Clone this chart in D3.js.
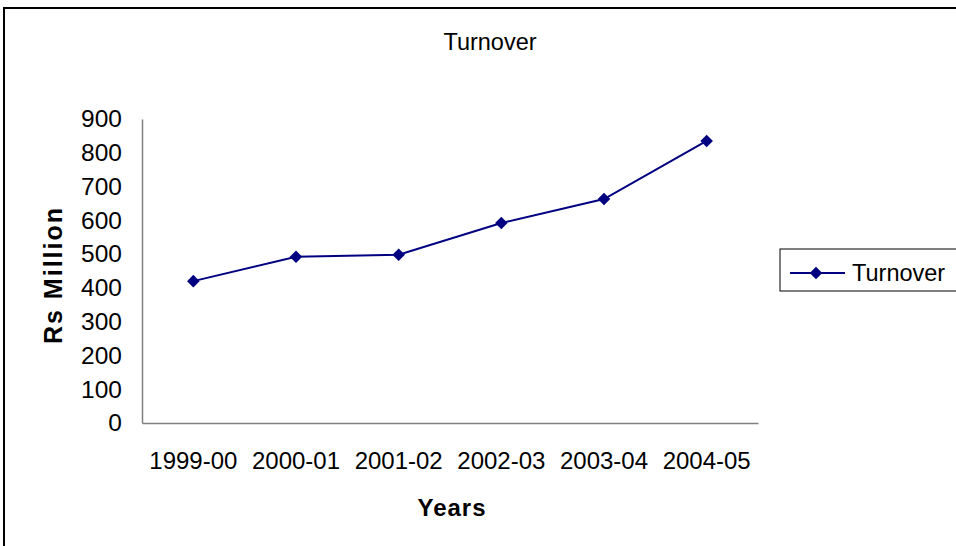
<!DOCTYPE html>
<html>
<head>
<meta charset="utf-8">
<script src="https://cdn.jsdelivr.net/npm/d3@7"></script>
<style>
  body { margin: 0; background: #fff; }
  svg { font-family: "Liberation Sans", Arial, sans-serif; }
</style>
</head>
<body>
<div class="chart"></div>
<script>
const years = ["1999-00", "2000-01", "2001-02", "2002-03", "2003-04", "2004-05"];
const turnover = [420, 492, 498, 592, 663, 835];
const yTicks = [0, 100, 200, 300, 400, 500, 600, 700, 800, 900];

const width = 956;
const height = 546;
const margin = { left: 142, right: 198, top: 119, bottom: 123 };

const svg = d3
  .select(".chart")
  .append("svg")
  .attr("width", width)
  .attr("height", height);

// outer frame
svg
  .append("rect")
  .attr("x", 4)
  .attr("y", 8)
  .attr("width", 960)
  .attr("height", 560)
  .attr("fill", "white")
  .attr("stroke", "black")
  .attr("stroke-width", 2);

const x = d3
  .scaleBand()
  .domain(years)
  .range([margin.left, width - margin.right]);

const y = d3
  .scaleLinear()
  .domain([0, 900])
  .range([height - margin.bottom, margin.top]);

// title
svg
  .append("text")
  .attr("x", 490)
  .attr("y", 50)
  .attr("text-anchor", "middle")
  .attr("font-size", "23.5px")
  .text("Turnover");

// y axis
const yAxis = svg
  .append("g")
  .attr("transform", "translate(" + margin.left + ",0)")
  .call(d3.axisLeft(y).tickValues(yTicks).tickSize(0).tickPadding(20));
yAxis.select(".domain").attr("stroke", "#808080").attr("stroke-width", 1.5);
yAxis.selectAll("text").attr("font-size", "24.5px").attr("fill", "black")
  .attr("font-family", "Liberation Sans, Arial, sans-serif");

// x axis
const xAxis = svg
  .append("g")
  .attr("transform", "translate(0," + (height - margin.bottom) + ")")
  .call(d3.axisBottom(x).tickSize(0).tickPadding(29));
xAxis.select(".domain").attr("stroke", "#808080").attr("stroke-width", 1.5);
xAxis.selectAll("text").attr("font-size", "24px").attr("fill", "black")
  .attr("font-family", "Liberation Sans, Arial, sans-serif");

// axis titles
svg
  .append("text")
  .attr("x", 452)
  .attr("y", 516)
  .attr("text-anchor", "middle")
  .attr("font-size", "24px")
  .attr("font-weight", "bold")
  .attr("letter-spacing", "1px")
  .text("Years");

svg
  .append("text")
  .attr("transform", "translate(62,275) rotate(-90)")
  .attr("text-anchor", "middle")
  .attr("font-size", "25px")
  .attr("font-weight", "bold")
  .attr("letter-spacing", "2px")
  .text("Rs Million");

// line
const line = d3
  .line()
  .x(function (d, i) {
    return x(years[i]) + x.bandwidth() / 2;
  })
  .y(function (d) {
    return y(d);
  });

svg
  .append("path")
  .datum(turnover)
  .attr("d", line)
  .attr("fill", "none")
  .attr("stroke", "#000080")
  .attr("stroke-width", 2);

const diamond = d3.symbol().type(d3.symbolDiamond2).size(100);

svg
  .selectAll(".pt")
  .data(turnover)
  .enter()
  .append("path")
  .attr("class", "pt")
  .attr("d", diamond)
  .attr("transform", function (d, i) {
    return "translate(" + (x(years[i]) + x.bandwidth() / 2) + "," + y(d) + ")";
  })
  .attr("fill", "#000080");

// legend
const legend = svg.append("g");
legend
  .append("rect")
  .attr("x", 780)
  .attr("y", 249)
  .attr("width", 190)
  .attr("height", 42)
  .attr("fill", "white")
  .attr("stroke", "black")
  .attr("stroke-width", 1);
legend
  .append("line")
  .attr("x1", 790)
  .attr("x2", 845)
  .attr("y1", 273)
  .attr("y2", 273)
  .attr("stroke", "#000080")
  .attr("stroke-width", 2);
legend
  .append("path")
  .attr("d", diamond)
  .attr("transform", "translate(816,273)")
  .attr("fill", "#000080");
legend
  .append("text")
  .attr("x", 852)
  .attr("y", 281)
  .attr("font-size", "23.5px")
  .text("Turnover");
</script>
</body>
</html>
